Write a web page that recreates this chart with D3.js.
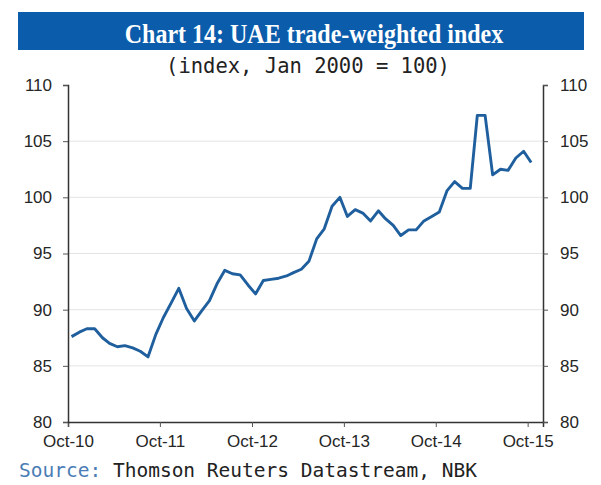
<!DOCTYPE html>
<html>
<head>
<meta charset="utf-8">
<script src="https://cdn.jsdelivr.net/npm/d3@7"></script>
<style>
  body { margin: 0; background: #fff; }
</style>
</head>
<body>
<svg id="chart" width="601" height="485"></svg>
<script>
// UAE trade-weighted index, monthly Oct-10 .. Oct-15
const firstMonth = new Date(2010, 9, 15);
const indexValues = [
  87.6, 88.0, 88.3, 88.3, 87.5, 87.0, 86.7, 86.8, 86.6, 86.3,
  85.8, 87.8, 89.3, 90.6, 91.9, 90.1, 89.0, 89.9, 90.8, 92.3,
  93.5, 93.2, 93.1, 92.2, 91.4, 92.6, 92.7, 92.8, 93.0, 93.3,
  93.6, 94.3, 96.3, 97.2, 99.2, 100.0, 98.3, 98.9, 98.6, 97.9,
  98.8, 98.1, 97.5, 96.6, 97.1, 97.1, 97.9, 98.3, 98.7, 100.6,
  101.4, 100.8, 100.8, 107.3, 107.3, 102.0, 102.5, 102.4, 103.5, 104.1,
  103.1
];
const yTicks = [80, 85, 90, 95, 100, 105, 110];
const xTickLabels = ["Oct-10", "Oct-11", "Oct-12", "Oct-13", "Oct-14", "Oct-15"];

const data = indexValues.map((v, i) => ({ date: d3.timeMonth.offset(firstMonth, i), value: v }));

const svg = d3.select("#chart");
const margin = {top: 85, right: 58, bottom: 63, left: 68};
const width = +svg.attr("width") - margin.left - margin.right;
const height = +svg.attr("height") - margin.top - margin.bottom;

// title bar
svg.append("rect")
    .attr("x", 18).attr("y", 12)
    .attr("width", 566).attr("height", 38)
    .attr("fill", "#0b5cab");
svg.append("text")
    .attr("transform", "translate(314,43) scale(1,1.12)")
    .attr("text-anchor", "middle")
    .style("font-family", "Liberation Serif, Times New Roman, serif")
    .style("font-weight", "bold")
    .style("font-size", "24px")
    .attr("fill", "#fff")
    .text("Chart 14: UAE trade-weighted index");
svg.append("text")
    .attr("x", 308).attr("y", 73)
    .attr("text-anchor", "middle")
    .style("font-family", "DejaVu Sans Mono, monospace")
    .style("font-size", "20.5px")
    .attr("fill", "#222")
    .text("(index, Jan 2000 = 100)");

const g = svg.append("g").attr("transform", `translate(${margin.left},${margin.top})`);

const xScale = d3.scaleTime()
    .domain([new Date(2010, 9, 1), new Date(2015, 11, 1)])
    .range([0, width]);
const yScale = d3.scaleLinear().domain([80, 110]).range([height, 0]);

// faint gridlines
g.selectAll(".grid")
    .data(yTicks.filter(d => d > 80 && d < 110))
    .enter().append("line")
    .attr("class", "grid")
    .attr("x1", 0).attr("x2", width)
    .attr("y1", d => yScale(d)).attr("y2", d => yScale(d))
    .attr("stroke", "#e4e4e4")
    .attr("stroke-width", 1);

const xTickDates = xTickLabels.map((s, i) => new Date(2010 + i, 9, 1));

const axisFont = sel => sel.selectAll("text")
    .style("font-family", "Liberation Sans, Arial, sans-serif")
    .style("font-size", "17px")
    .attr("fill", "#262626");

const xAxis = g.append("g")
    .attr("transform", `translate(0,${height})`)
    .call(d3.axisBottom(xScale).tickValues(xTickDates)
        .tickFormat((d, i) => xTickLabels[i]).tickSizeOuter(0).tickSize(5).tickPadding(8))
    .call(axisFont);

const yAxisL = g.append("g")
    .call(d3.axisLeft(yScale).tickValues(yTicks).tickSize(5).tickPadding(11).tickSizeOuter(5))
    .call(axisFont);

const yAxisR = g.append("g")
    .attr("transform", `translate(${width},0)`)
    .call(d3.axisRight(yScale).tickValues(yTicks).tickSize(5).tickPadding(12).tickSizeOuter(5))
    .call(axisFont);

[xAxis, yAxisL, yAxisR].forEach(a => {
    a.select(".domain").attr("stroke", "#333").attr("stroke-width", 1.5);
    a.selectAll(".tick line").attr("stroke", "#555");
});

const line = d3.line()
    .x(d => xScale(d.date))
    .y(d => yScale(d.value));

g.append("path")
    .datum(data)
    .attr("fill", "none")
    .attr("stroke", "#1f5f9e")
    .attr("stroke-width", 2.9)
    .attr("stroke-linejoin", "round")
    .attr("d", line);

// source note
const src = svg.append("text")
    .attr("x", 19).attr("y", 477)
    .style("font-family", "DejaVu Sans Mono, monospace")
    .style("font-size", "19.5px");
src.append("tspan").attr("fill", "#4a7db5").text("Source:");
src.append("tspan").attr("fill", "#222").text(" Thomson Reuters Datastream, NBK");
</script>
</body>
</html>
